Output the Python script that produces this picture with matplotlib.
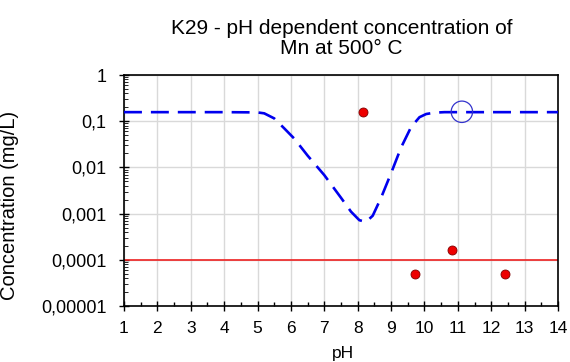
import matplotlib
matplotlib.use("Agg")
import matplotlib.pyplot as plt
from matplotlib.ticker import FixedLocator, LogLocator, NullFormatter

plt.rcParams["font.family"] = ["Liberation Sans", "DejaVu Sans"]

# model curve (pH, concentration mg/L)
curve_ph = [1.0, 2.0, 3.0, 4.0, 5.0, 5.2, 5.5, 5.8, 6.1, 6.5, 7.0, 7.5, 7.8, 8.05, 8.25,
            8.45, 8.7, 9.0, 9.3, 9.6, 9.85, 10.05, 10.3, 10.6, 11.0, 12.0, 13.0, 14.0]
curve_conc = [0.157, 0.157, 0.157, 0.157, 0.155, 0.148, 0.115, 0.07, 0.042, 0.018, 0.0068,
              0.0022, 0.0011, 0.00072, 0.00066, 0.0009, 0.0022, 0.0075, 0.027, 0.075,
              0.122, 0.143, 0.153, 0.157, 0.157, 0.157, 0.157, 0.157]

# measured points
meas_ph = [8.17, 9.73, 10.82, 12.42]
meas_conc = [0.16, 5e-5, 1.6e-4, 5e-5]

# open marker
open_ph = [11.12]
open_conc = [0.16]

limit = 1e-4

yticks = [1e-5, 1e-4, 1e-3, 1e-2, 1e-1, 1]
ytick_labels = ["0,00001", "0,0001", "0,001", "0,01", "0,1", "1"]

fig = plt.figure(figsize=(5.7, 3.62), dpi=100)
ax = fig.add_axes([0.2175, 0.1547, 0.7615, 0.6381])

ax.plot(curve_ph, curve_conc, color="#0000ee", lw=1.9, dashes=(6.8, 3.4), zorder=3)
ax.axhline(limit, color="#ee2222", lw=1.2, zorder=2)
ax.scatter(meas_ph, meas_conc, s=42, color="#ee0000", edgecolor="#800000", lw=0.6, zorder=4)
ax.scatter(open_ph, open_conc, s=237, facecolor="none", edgecolor="#3333cc", lw=0.9, zorder=4)

ax.set_yscale("log")
ax.set_xlim(1, 14)
ax.set_ylim(1e-5, 1)
ax.set_xticks(range(1, 15))
ax.xaxis.set_minor_locator(FixedLocator([x + 0.5 for x in range(1, 14)]))
ax.set_yticks(yticks)
ax.set_yticklabels(ytick_labels)
ax.yaxis.set_minor_locator(LogLocator(base=10, subs=range(2, 10), numticks=20))
ax.yaxis.set_minor_formatter(NullFormatter())

ax.tick_params(axis="x", which="major", direction="inout", length=7, width=1, labelsize=12.5, pad=7)
ax.tick_params(axis="x", which="minor", direction="in", length=3, width=1)
ax.tick_params(axis="y", which="major", direction="inout", length=7, width=1, labelsize=13, pad=9)
ax.tick_params(axis="y", which="minor", direction="in", length=3, width=0.6)

ax.grid(True, which="major", color="#d9d9d9", lw=1)
ax.set_axisbelow(True)
for s in ax.spines.values():
    s.set_linewidth(1.2)

fig.text(342.5 / 570, 4 / 362, "pH", ha="center", va="baseline", fontsize=12.5)
fig.text(10 / 570, 1 - 205 / 362, "Concentration (mg/L)", rotation=90,
         ha="center", va="center", fontsize=14.5)
fig.text(341.5 / 570, 0.948, "K29 - pH dependent concentration of\nMn at 500° C",
         ha="center", va="top", fontsize=15, linespacing=1.05)

fig.savefig("out.png", dpi=100)
